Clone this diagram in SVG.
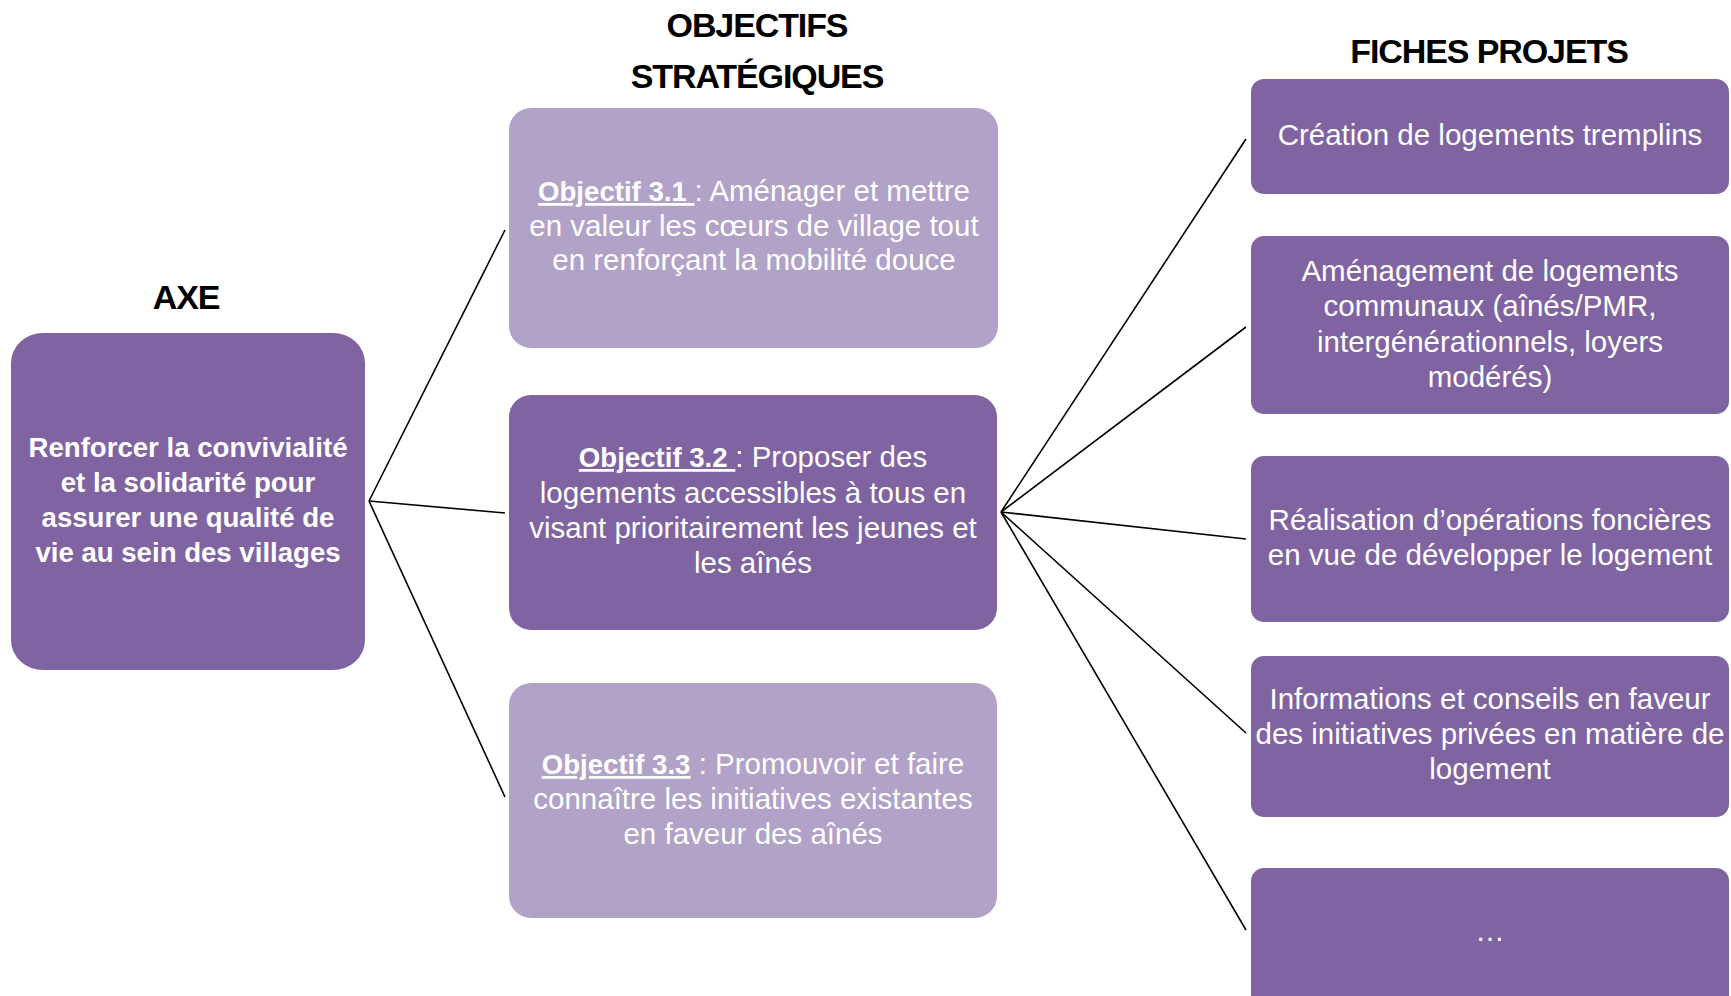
<svg xmlns="http://www.w3.org/2000/svg" width="1731" height="996" viewBox="0 0 1731 996">
<style>
.dark{fill:#8064A2}
.light{fill:#B1A2C7}
.t{font-family:"Liberation Sans",Arial,sans-serif;font-size:29.5px;fill:#FFFFFF;text-anchor:middle}
.tb{font-family:"Liberation Sans",Arial,sans-serif;font-size:27.6px;font-weight:bold;fill:#FFFFFF;text-anchor:middle}
.b{font-weight:bold;font-size:27.6px;text-decoration:underline}
.h{font-family:"Liberation Sans",Arial,sans-serif;font-size:34px;letter-spacing:-1.1px;font-weight:bold;fill:#000000;text-anchor:middle}
.c{stroke:#000000;stroke-width:1.6;fill:none}
</style>
<rect width="1731" height="996" fill="#FFFFFF"/>
<g id="headings">
<text class="h" x="757" y="37">OBJECTIFS</text>
<text class="h" x="757" y="88">STRATÉGIQUES</text>
<text class="h" x="1489" y="63">FICHES PROJETS</text>
<text class="h" x="186" y="309">AXE</text>
</g>
<g id="connectors">
<line class="c" x1="369" y1="501" x2="505" y2="230"/>
<line class="c" x1="369" y1="501" x2="505" y2="513"/>
<line class="c" x1="369" y1="501" x2="505" y2="797"/>
<line class="c" x1="1001" y1="512" x2="1246" y2="139"/>
<line class="c" x1="1001" y1="512" x2="1246" y2="327"/>
<line class="c" x1="1001" y1="512" x2="1246" y2="539"/>
<line class="c" x1="1001" y1="512" x2="1246" y2="733"/>
<line class="c" x1="1001" y1="512" x2="1246" y2="930"/>
</g>
<g id="axe">
<rect class="dark" x="11" y="333" width="354" height="337" rx="32" ry="30"/>
<text class="tb" x="188" y="457">Renforcer la convivialité</text>
<text class="tb" x="188" y="492">et la solidarité pour</text>
<text class="tb" x="188" y="527">assurer une qualité de</text>
<text class="tb" x="188" y="562">vie au sein des villages</text>
</g>
<g id="obj31">
<rect class="light" x="509" y="108" width="489" height="240" rx="22"/>
<text class="t" x="754" y="201"><tspan class="b">Objectif 3.1 </tspan>: Aménager et mettre</text>
<text class="t" x="754" y="235.5">en valeur les cœurs de village tout</text>
<text class="t" x="754" y="270">en renforçant la mobilité douce</text>
</g>
<g id="obj32">
<rect class="dark" x="509" y="395" width="488" height="235" rx="22"/>
<text class="t" x="753" y="467"><tspan class="b">Objectif 3.2 </tspan>: Proposer des</text>
<text class="t" x="753" y="502.5">logements accessibles à tous en</text>
<text class="t" x="753" y="538">visant prioritairement les jeunes et</text>
<text class="t" x="753" y="573">les aînés</text>
</g>
<g id="obj33">
<rect class="light" x="509" y="683" width="488" height="235" rx="22"/>
<text class="t" x="753" y="774"><tspan class="b">Objectif 3.3</tspan> : Promouvoir et faire</text>
<text class="t" x="753" y="809">connaître les initiatives existantes</text>
<text class="t" x="753" y="844">en faveur des aînés</text>
</g>
<g id="fiche1">
<rect class="dark" x="1251" y="79" width="478" height="115" rx="13"/>
<text class="t" x="1490" y="145">Création de logements tremplins</text>
</g>
<g id="fiche2">
<rect class="dark" x="1251" y="236" width="478" height="178" rx="13"/>
<text class="t" x="1490" y="281">Aménagement de logements</text>
<text class="t" x="1490" y="316">communaux (aînés/PMR,</text>
<text class="t" x="1490" y="351.5">intergénérationnels, loyers</text>
<text class="t" x="1490" y="387">modérés)</text>
</g>
<g id="fiche3">
<rect class="dark" x="1251" y="456" width="478" height="166" rx="13"/>
<text class="t" x="1490" y="530">Réalisation d’opérations foncières</text>
<text class="t" x="1490" y="565">en vue de développer le logement</text>
</g>
<g id="fiche4">
<rect class="dark" x="1251" y="656" width="478" height="161" rx="13"/>
<text class="t" x="1490" y="709">Informations et conseils en faveur</text>
<text class="t" x="1490" y="744">des initiatives privées en matière de</text>
<text class="t" x="1490" y="779">logement</text>
</g>
<g id="fiche5">
<rect class="dark" x="1251" y="868" width="478" height="140" rx="13"/>
<text class="t" x="1490" y="941">…</text>
</g>
</svg>
